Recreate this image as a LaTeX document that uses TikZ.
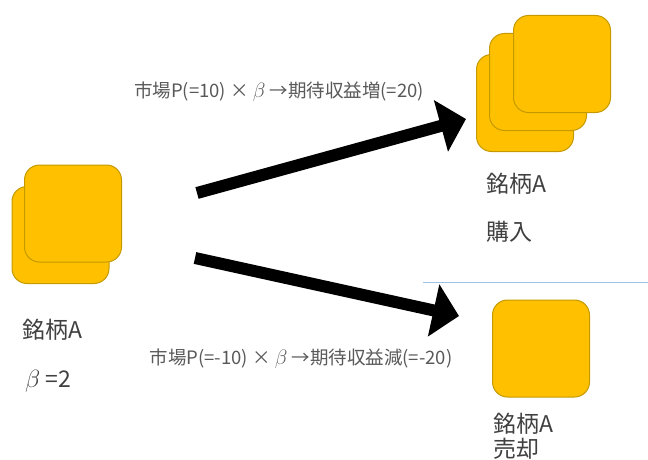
\documentclass[tikz,border=0pt]{standalone}
\usepackage{fontspec}
\setmainfont{Noto Sans CJK JP}
\usetikzlibrary{arrows.meta}
\definecolor{gold}{HTML}{FFC000}
\definecolor{goldline}{HTML}{C49A00}
\definecolor{txt}{HTML}{404040}
\definecolor{lbl}{HTML}{595959}
\definecolor{sep}{HTML}{9DC3E6}
\newcommand{\bigbeta}[1]{{\fontsize{#1}{#1}\selectfont$\beta$}}
\begin{document}
\begin{tikzpicture}[x=1pt,y=-1pt,
  stockbox/.style={draw=goldline, fill=gold, line width=1pt, rounded corners=15pt,
    minimum width=97pt, minimum height=97pt, inner sep=0pt},
  stocktext/.style={text=txt, font=\fontsize{23}{27}\selectfont, anchor=west, inner sep=0pt},
  arrlabel/.style={text=lbl, font=\fontsize{18.5}{22}\selectfont, inner sep=0pt},
  bigarrow/.style={line width=12pt, -{Triangle[length=26pt,width=52pt]}},
  sepline/.style={draw=sep, line width=1pt}]
\useasboundingbox (0,0) rectangle (648,460);
% left stock
\node[stockbox] (lb) at (60.5,235) {};
\node[stockbox] (lf) at (73,213.5) {};
\node[stocktext] (ln) at (22,330) {銘柄A};
\node[stocktext] (lbeta) at (25,381) {\bigbeta{28}\ =2};
% right top stocks
\node[stockbox] (r1) at (525,103) {};
\node[stockbox] (r2) at (538,82) {};
\node[stockbox] (r3) at (562,64) {};
\node[stocktext] (rn) at (486,184) {銘柄A};
\node[stocktext] (rbuy) at (486,232) {購入};
% right bottom stock
\node[stockbox] (s1) at (541,348.5) {};
\node[stocktext] (sn) at (493,424) {銘柄A};
\node[stocktext] (ssell) at (493,449) {売却};
% arrows
\coordinate (ua) at (197,193);
\coordinate (ub) at (466,119);
\coordinate (da) at (195,258);
\coordinate (db) at (459,316);
\draw[bigarrow] (ua) -- (ub);
\draw[bigarrow] (da) -- (db);
\node[arrlabel] (ul) at (279,92) {市場P(=10)\ ×\ \bigbeta{22}\ →期待収益増(=20)};
\node[arrlabel] (dl) at (301,359) {市場P(=-10)\ ×\ \bigbeta{22}\ →期待収益減(=-20)};
% separator
\coordinate (sa) at (423,282);
\coordinate (sb) at (648,282);
\draw[sepline] (sa) -- (sb);
\end{tikzpicture}
\end{document}
